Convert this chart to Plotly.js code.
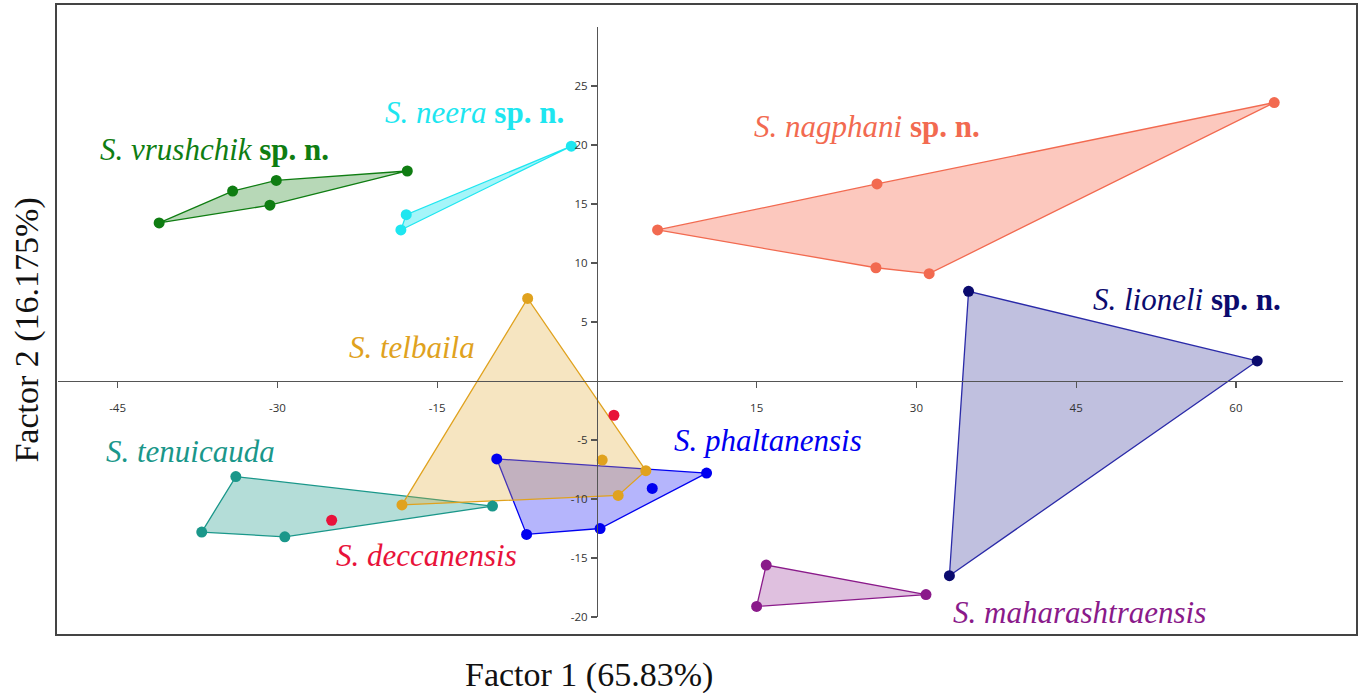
<!DOCTYPE html>
<html>
<head>
<meta charset="utf-8">
<script src="https://cdn.plot.ly/plotly-3.0.1.min.js"></script>
<style>html,body{margin:0;padding:0;background:#fff;}#chart{width:1362px;height:693px;}</style>
</head>
<body>
<div id="chart"></div>
<script>
// ---- data (Factor 1 / Factor 2 scores) ----
const vrushchikX = [-41.1, -34.2, -30.1, -30.7, -17.8];
const vrushchikY = [13.4, 16.1, 17.0, 14.9, 17.8];
const neeraX = [-18.4, -17.9, -2.4];
const neeraY = [12.8, 14.1, 19.9];
const nagphaniX = [5.7, 26.3, 26.2, 31.2, 63.6];
const nagphaniY = [12.8, 16.7, 9.6, 9.1, 23.6];
const lioneliX = [34.9, 62.0, 33.1];
const lioneliY = [7.6, 1.7, -16.5];
const telbailaX = [-6.5, -18.3, 2.0, 4.6, 0.5];
const telbailaY = [7.0, -10.5, -9.7, -7.6, -6.7];
const deccanensisX = [1.6, -24.9];
const deccanensisY = [-2.9, -11.8];
const phaltanensisX = [-9.4, 10.3, 5.2, 0.3, -6.6];
const phaltanensisY = [-6.6, -7.8, -9.1, -12.5, -13.0];
const tenuicaudaX = [-33.9, -37.1, -29.3, -9.8];
const tenuicaudaY = [-8.1, -12.8, -13.2, -10.6];
const maharashtraensisX = [15.9, 15.0, 30.9];
const maharashtraensisY = [-15.6, -19.1, -18.1];

const xTicks = [-45, -30, -15, 15, 30, 45, 60];
const yTicks = [-20, -15, -10, -5, 5, 10, 15, 20, 25];
const xTitle = 'Factor 1 (65.83%)';
const yTitle = 'Factor 2 (16.175%)';

// ---- styling ----
const groups = [
  {name:'S. tenuicauda', x:tenuicaudaX, y:tenuicaudaY, c:'#1a978a', f:'rgba(26,151,138,0.33)', label:'<i>S. tenuicauda</i>', lx:-38.2, ly:-6.0},
  {name:'S. vrushchik', x:vrushchikX, y:vrushchikY, c:'#0f7d12', f:'rgba(15,125,18,0.30)', label:'<i>S. vrushchik</i> <b>sp. n.</b>', lx:-35.9, ly:19.6},
  {name:'S. neera', x:neeraX, y:neeraY, c:'#1ee6f0', f:'rgba(30,230,240,0.40)', label:'<i>S. neera</i> <b>sp. n.</b>', lx:-11.5, ly:22.75},
  {name:'S. nagphani', x:nagphaniX, y:nagphaniY, c:'#f26a50', f:'rgba(248,110,85,0.38)', label:'<i>S. nagphani</i> <b>sp. n.</b>', lx:25.4, ly:21.6},
  {name:'S. lioneli', x:lioneliX, y:lioneliY, c:'#0b0b6e', lc:'#2a2aa8', f:'rgba(30,30,140,0.28)', label:'<i>S. lioneli</i> <b>sp. n.</b>', lx:55.4, ly:6.9},
  {name:'S. phaltanensis', x:phaltanensisX, y:phaltanensisY, c:'#0000f0', f:'rgba(0,0,245,0.29)', label:'<i>S. phaltanensis</i>', lx:16.1, ly:-5.0},
  {name:'S. telbaila', x:telbailaX, y:telbailaY, c:'#e0a21e', f:'rgba(226,168,50,0.30)', label:'<i>S. telbaila</i>', lx:-17.4, ly:2.85},
  {name:'S. maharashtraensis', x:maharashtraensisX, y:maharashtraensisY, c:'#8a1a8a', f:'rgba(140,30,140,0.28)', label:'<i>S. maharashtraensis</i>', lx:45.3, ly:-19.6},
  {name:'S. deccanensis', x:deccanensisX, y:deccanensisY, c:'#e8123a', f:null, label:'<i>S. deccanensis</i>', lx:-16.0, ly:-14.8}
];

function hull(xs, ys){
  const p = xs.map((x,i)=>[x, ys[i]]).sort((a,b)=>a[0]-b[0]||a[1]-b[1]);
  const cross=(o,a,b)=>(a[0]-o[0])*(b[1]-o[1])-(a[1]-o[1])*(b[0]-o[0]);
  const lo=[], up=[];
  for(const q of p){ while(lo.length>=2 && cross(lo[lo.length-2],lo[lo.length-1],q)<=0) lo.pop(); lo.push(q); }
  for(let i=p.length-1;i>=0;i--){ const q=p[i]; while(up.length>=2 && cross(up[up.length-2],up[up.length-1],q)<=0) up.pop(); up.push(q); }
  up.pop(); lo.pop();
  const h = lo.concat(up); h.push(h[0]);
  return h;
}

const traces = [];
groups.forEach(g=>{
  if(g.f && g.x.length>=3){
    const h = hull(g.x, g.y);
    traces.push({type:'scatter', mode:'lines', x:h.map(p=>p[0]), y:h.map(p=>p[1]),
      fill:'toself', fillcolor:g.f, line:{color:g.lc||g.c, width:1.3}, hoverinfo:'skip', showlegend:false});
  }
});
groups.forEach(g=>{
  traces.push({type:'scatter', mode:'markers', x:g.x, y:g.y, name:g.name,
    marker:{color:g.c, size:11}, showlegend:false});
});

const serif = 'Liberation Serif, Times New Roman, serif';
const annotations = groups.map(g=>({x:g.lx, y:g.ly, xref:'x', yref:'y', text:g.label, showarrow:false,
  font:{family:serif, size:31, color:g.c}, xanchor:'center', yanchor:'middle'}));

// layout geometry
const xRange = [-50.6, 70.05];
const yRange = [-20, 30];
const xDom = [0.0015, 0.9892];
const yDom = [0.0285, 0.9635];
const yAxisPos = xDom[0] + (0 - xRange[0])/(xRange[1]-xRange[0])*(xDom[1]-xDom[0]);
const xAxisPos = yDom[0] + (0 - yRange[0])/(yRange[1]-yRange[0])*(yDom[1]-yDom[0]);

annotations.push({xref:'paper', yref:'paper', x:0.41, y:-0.063, text:xTitle, showarrow:false,
  font:{family:serif, size:34, color:'#111'}, xanchor:'center', yanchor:'middle'});
annotations.push({xref:'paper', yref:'paper', x:-0.022, y:0.483, text:yTitle, showarrow:false, textangle:-90,
  font:{family:serif, size:34, color:'#111'}, xanchor:'center', yanchor:'middle'});

const tickFont = {family:'Open Sans, Noto Sans, sans-serif', size:11.5, color:'#333'};
const layout = {
  width:1362, height:693,
  margin:{l:56, r:5, t:4, b:58, pad:0},
  paper_bgcolor:'#fff', plot_bgcolor:'rgba(0,0,0,0)',
  showlegend:false,
  xaxis:{range:xRange, domain:xDom, anchor:'free', position:xAxisPos, showgrid:false, zeroline:false,
    showline:true, linecolor:'#555', linewidth:1.3, ticks:'outside', ticklen:6, tickcolor:'#555', tickwidth:1.2,
    tickmode:'array', tickvals:xTicks, ticktext:xTicks.map(String), tickfont:tickFont, ticklabelstandoff:10},
  yaxis:{range:yRange, domain:yDom, anchor:'free', position:yAxisPos, showgrid:false, zeroline:false,
    showline:true, linecolor:'#555', linewidth:1.3, ticks:'outside', ticklen:6, tickcolor:'#555', tickwidth:1.2,
    tickmode:'array', tickvals:yTicks, ticktext:yTicks.map(String), tickfont:tickFont, ticklabelstandoff:1},
  shapes:[{type:'rect', xref:'paper', yref:'paper', x0:0, x1:1, y0:0, y1:1, line:{color:'#444', width:2}, layer:'above'}],
  annotations:annotations
};

Plotly.newPlot('chart', traces, layout, {displayModeBar:false, staticPlot:true});
</script>
</body>
</html>
